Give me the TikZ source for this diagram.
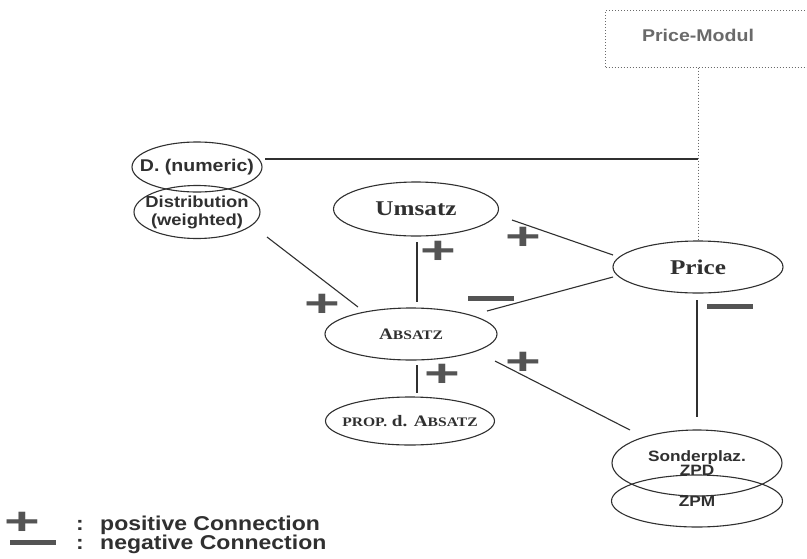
\documentclass[tikz,border=0pt]{standalone}
\usepackage{fontspec}
\usepackage{graphicx}
\usetikzlibrary{calc,shapes.geometric}

\newfontfamily\widesans[FakeStretch=1.15]{Liberation Sans}
\newfontfamily\wideserif[FakeStretch=1.2]{Liberation Serif}
\definecolor{ink}{HTML}{303030}
\definecolor{signgray}{HTML}{545454}
\definecolor{dotgray}{HTML}{6A6A6A}

\newcommand{\plussign}{\scalebox{1.4}[1]{+}}
\newcommand{\minussign}{\rule{46pt}{5pt}}
\newcommand{\smallcap}[1]{{\fontsize{13}{13}\selectfont\MakeUppercase{#1}}}

\begin{document}
\begin{tikzpicture}[x=1pt,y=-1pt,
  bubble/.style={ellipse,draw=ink,line width=1.1pt,inner xsep=-12pt,inner ysep=0pt,text=ink,align=center},
  sanslabel/.style={font=\widesans\bfseries\fontsize{15}{15}\selectfont},
  seriflabel/.style={font=\wideserif\bfseries\fontsize{21}{21}\selectfont},
  sclabel/.style={font=\wideserif\bfseries\fontsize{16}{16}\selectfont},
  link/.style={draw=ink,line width=1.1pt},
  sign/.style={inner sep=0pt,text=signgray,font=\widesans\bfseries\fontsize{38}{38}\selectfont},
  legend/.style={inner sep=0pt,text=ink,font=\widesans\bfseries\fontsize{20}{20}\selectfont}]

\useasboundingbox[fill=white] (0,0) rectangle (807,558);

\node[draw=dotgray,dotted,line width=1pt,minimum width=215pt,minimum height=57pt,anchor=west] (modul) at (605,38.5) {};
\node[text=dotgray,font=\widesans\bfseries\fontsize{17}{17}\selectfont] (modulname) at (698,35) {Price-Modul};

\node[bubble,font=\widesans\bfseries\fontsize{17}{17}\selectfont,minimum width=130pt,minimum height=50pt] (numeric) at (197,167) {D. (numeric)};
\node[bubble,font=\widesans\bfseries\fontsize{16}{18}\selectfont,minimum width=126pt,minimum height=53pt] (distrib) at (197,212) {Distribution\\(weighted)};
\node[bubble,seriflabel,minimum width=165pt,minimum height=54pt] (umsatz) at (416,209) {Umsatz};
\node[bubble,sclabel,minimum width=172pt,minimum height=52pt] (absatz) at (411,334) {A\smallcap{bsatz}};
\node[bubble,sclabel,minimum width=169pt,minimum height=48pt] (prop) at (410,421) {\smallcap{prop.} d. A\smallcap{bsatz}};
\node[bubble,seriflabel,minimum width=170pt,minimum height=52pt] (price) at (698,267) {Price};
\node[bubble,font=\widesans\bfseries\fontsize{15}{14}\selectfont,minimum width=170pt,minimum height=66pt] (sonder) at (697,463) {Sonderplaz.\\ZPD};
\node[bubble,sanslabel,minimum width=171pt,minimum height=52pt] (zpm) at (697,501) {ZPM};

\coordinate (numout) at ($(numeric.center)+(68,-8)$);
\draw[link] (numout) -- (numout -| price.north);
\draw[draw=dotgray,dotted,line width=1pt] (modulname |- modul.south) -- (price.north);

\draw[link] ($(umsatz.center)+(1,33)$) -- ($(absatz.center)+(6,-32)$);
\draw[link] ($(umsatz.center)+(96,11)$) -- ($(price.center)+(-85,-12)$);
\draw[link] ($(distrib.center)+(70,25)$) -- ($(absatz.center)+(-53,-27)$);
\draw[link] ($(absatz.center)+(76,-23)$) -- ($(price.center)+(-85,10)$);
\draw[link] ($(absatz.center)+(84,27)$) -- ($(sonder.center)+(-67,-33)$);
\draw[link] ($(absatz.center)+(6,31)$) -- ($(prop.center)+(7,-28)$);
\draw[link] ($(price.center)+(-1,33)$) -- ($(sonder.center)+(0,-46)$);

\node[sign] (plusumsatz) at (438,252) {\plussign};
\node[sign] (plusprice) at (523,238) {\plussign};
\node[sign] (plusdistrib) at (322,305) {\plussign};
\node[sign] (minusprice) at (491,298) {\minussign};
\node[sign] (plussonder) at (523,363) {\plussign};
\node[sign] (plusprop) at (442,375) {\plussign};
\node[sign] (minussonder) at (730,306) {\minussign};

\node[sign] (legplus) at (22,523) {\plussign};
\node[legend,anchor=base] (legcolon) at (80,530) {:};
\node[legend,anchor=base west] (legpos) at (100,530) {positive Connection};
\node[sign] (legminus) at (33,542) {\minussign};
\node[legend,anchor=base] (legcolontwo) at (80,549) {:};
\node[legend,anchor=base west] (legneg) at (100,549) {negative Connection};
\end{tikzpicture}
\end{document}
